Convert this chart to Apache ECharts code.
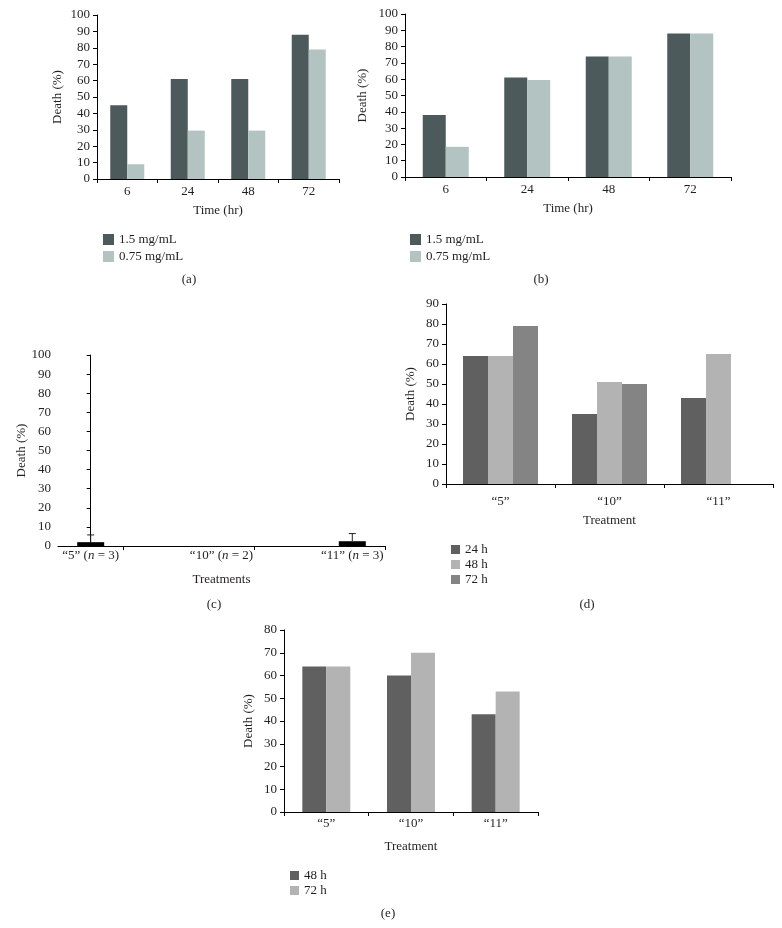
<!DOCTYPE html>
<html>
<head>
<meta charset="utf-8">
<script src="https://cdn.jsdelivr.net/npm/echarts@6.0.0/dist/echarts.min.js"></script>
<style>
  html, body { margin: 0; padding: 0; background: #fff; }
  #chart { width: 782px; height: 928px; }
</style>
</head>
<body>
<div id="chart"></div>
<script>
// ---- data ----
const timeCats = ['6', '24', '48', '72']
const aHigh = [45, 61, 61, 88]
const aLow = [9, 29.5, 29.5, 79]
const bHigh = [38, 61, 74, 88]
const bLow = [18.5, 59.5, 74, 88]

const cTreat = ['“5”', '“10”', '“11”']
const cN = [3, 2, 3]
const cMean = [2, 0, 2.5]
const cErr = [3.8, 0, 4]

const dCats = ['“5”', '“10”', '“11”']
const d24 = [64, 35, 43]
const d48 = [64, 51, 65]
const d72 = [79, 50, null]

const eCats = ['“5”', '“10”', '“11”']
const e48 = [64, 60, 43]
const e72 = [64, 70, 53]

const FONT = '"Liberation Serif", "DejaVu Serif", serif'
const TXT = '#231f20'
const DARK = '#4c5a5b'
const LIGHT = '#b3c3c1'
const G1 = '#606060'
const G2 = '#b3b3b3'
const G3 = '#848484'

const chart = echarts.init(document.getElementById('chart'))

const txt = { fontFamily: FONT, fontSize: 13, color: TXT }

function xCat(grid, data, name, labelMargin, nameGap) {
    return {
        type: 'category', gridIndex: grid, data: data,
        name: name, nameLocation: 'middle', nameGap: nameGap,
        nameTextStyle: txt,
        axisLine: { lineStyle: { color: '#000', width: 1 } },
        axisTick: { show: true, length: 4, lineStyle: { color: '#000' } },
        axisLabel: Object.assign({ margin: labelMargin }, txt),
        splitLine: { show: false }
    }
}

function yVal(grid, max, nameGap) {
    return {
        type: 'value', gridIndex: grid, min: 0, max: max, interval: 10,
        name: 'Death (%)', nameLocation: 'middle', nameGap: nameGap, nameRotate: 90,
        nameTextStyle: txt,
        axisLine: { show: true, lineStyle: { color: '#000', width: 1 } },
        axisTick: { show: true, length: 4, lineStyle: { color: '#000' } },
        axisLabel: Object.assign({ margin: 7 }, txt),
        splitLine: { show: false }
    }
}

function bar(name, grid, data, color, width) {
    return {
        type: 'bar', name: name, xAxisIndex: grid, yAxisIndex: grid,
        data: data, barWidth: width, barGap: '0%',
        itemStyle: { color: color }, silent: true
    }
}

function legend(left, top, items, size, gap) {
    return {
        orient: 'vertical', left: left, top: top, selectedMode: false,
        icon: 'rect', itemWidth: size, itemHeight: size, itemGap: gap,
        textStyle: txt, data: items
    }
}

function panelLabel(text, x, y) {
    return { type: 'text', x: x, y: y, style: { text: text, font: '13px ' + FONT, fill: TXT, align: 'center', verticalAlign: 'middle' } }
}

const option = {
    animation: false,
    backgroundColor: '#fff',
    grid: [
        { left: 97, top: 15, width: 242, height: 164 },
        { left: 405, top: 14, width: 326, height: 163 },
        { left: 58, top: 355, width: 327, height: 191 },
        { left: 446, top: 304, width: 327, height: 180 },
        { left: 284, top: 630, width: 254, height: 182 }
    ],
    xAxis: [
        xCat(0, timeCats, 'Time (hr)', 6, 25),
        xCat(1, timeCats, 'Time (hr)', 6, 25),
        {
            type: 'value', gridIndex: 2, min: -0.25, max: 2.25,
            name: 'Treatments', nameLocation: 'middle', nameGap: 27,
            nameTextStyle: txt,
            axisLine: { lineStyle: { color: '#000', width: 1 } },
            axisTick: { show: true, length: 4, customValues: [0.25, 1.25, 2.25], lineStyle: { color: '#000' } },
            axisLabel: {
                margin: 3, customValues: [0, 1, 2],
                formatter: function (v) {
                    const i = Math.round(v)
                    return '{q|' + cTreat[i] + ' (}{i|n}{q| = ' + cN[i] + ')}'
                },
                rich: {
                    q: txt,
                    i: Object.assign({ fontStyle: 'italic' }, txt)
                }
            },
            splitLine: { show: false }
        },
        xCat(3, dCats, 'Treatment', 11, 30),
        xCat(4, eCats, 'Treatment', 5, 28)
    ],
    yAxis: [
        yVal(0, 100, 33),
        yVal(1, 100, 36),
        yVal(2, 100, 29),
        yVal(3, 90, 29),
        yVal(4, 80, 29)
    ],
    legend: [
        legend(98, 228, ['1.5 mg/mL', '0.75 mg/mL'], 11, 4),
        legend(405, 228, ['1.5 mg/mL', '0.75 mg/mL'], 11, 4),
        legend(446, 538, [
            { name: '24 h', itemStyle: { color: G1 } },
            { name: '48 h', itemStyle: { color: G2 } },
            { name: '72 h', itemStyle: { color: G3 } }
        ], 9, 2),
        legend(285, 864, [
            { name: '48 h', itemStyle: { color: G1 } },
            { name: '72 h', itemStyle: { color: G2 } }
        ], 9, 2)
    ],
    graphic: [
        panelLabel('(a)', 189, 280),
        panelLabel('(b)', 541, 280),
        panelLabel('(c)', 214, 605),
        panelLabel('(d)', 587, 605),
        panelLabel('(e)', 388, 914)
    ],
    series: [
        bar('1.5 mg/mL', 0, aHigh, DARK, 17),
        bar('0.75 mg/mL', 0, aLow, LIGHT, 17),
        bar('1.5 mg/mL', 1, bHigh, DARK, 23),
        bar('0.75 mg/mL', 1, bLow, LIGHT, 23),
        bar('mean', 2, cMean.map((m, i) => [i, m]), '#000', 27),
        {
            type: 'custom', name: 'sd', xAxisIndex: 2, yAxisIndex: 2, silent: true,
            data: cMean.map((m, i) => [i, m, m + cErr[i]]).filter((d, i) => cErr[i] > 0),
            renderItem: function (params, api) {
                const p0 = api.coord([api.value(0), api.value(1)])
                const p1 = api.coord([api.value(0), api.value(2)])
                return {
                    type: 'group',
                    children: [
                        { type: 'line', shape: { x1: p0[0], y1: p0[1], x2: p1[0], y2: p1[1] }, style: { stroke: '#222', lineWidth: 1 } },
                        { type: 'line', shape: { x1: p1[0] - 3.5, y1: p1[1], x2: p1[0] + 3.5, y2: p1[1] }, style: { stroke: '#222', lineWidth: 1 } }
                    ]
                }
            },
            z: 3
        },
        bar('24 h', 3, d24, G1, 25),
        bar('48 h', 3, d48, G2, 25),
        bar('72 h', 3, d72.map(v => v === null ? '-' : v), G3, 25),
        bar('48 h', 4, e48, G1, 24),
        bar('72 h', 4, e72, G2, 24)
    ]
}

chart.setOption(option)
</script>
</body>
</html>
